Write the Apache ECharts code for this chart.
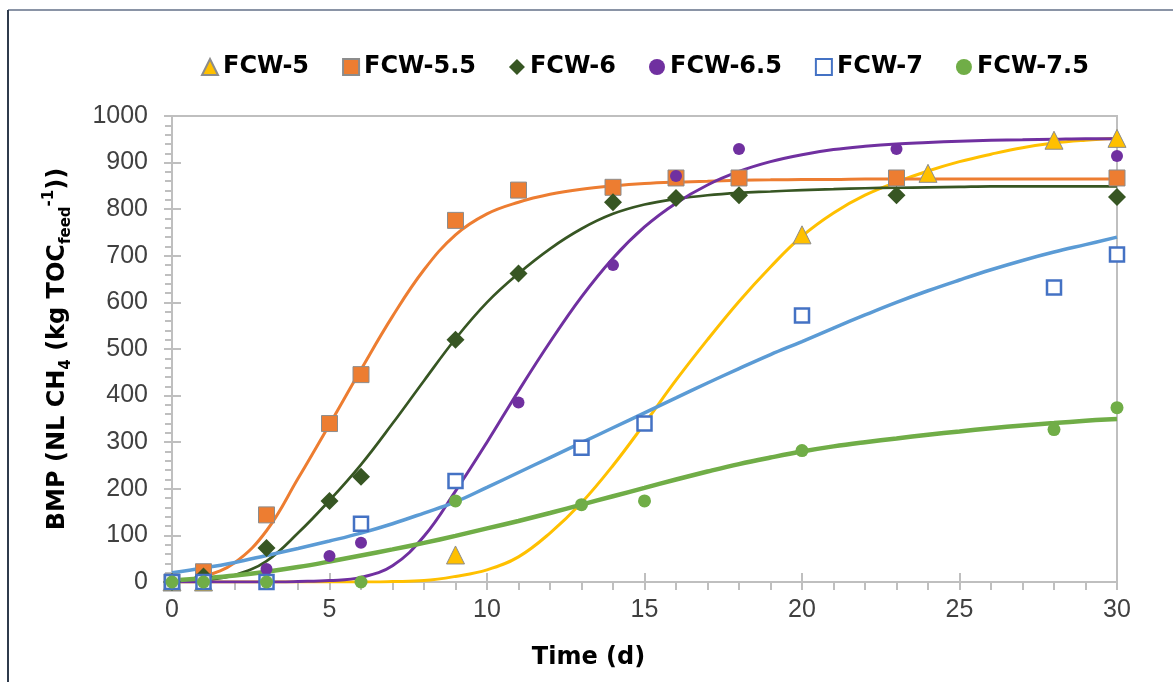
<!DOCTYPE html>
<html>
<head>
<meta charset="utf-8">
<script src="https://cdn.jsdelivr.net/npm/echarts@6/dist/echarts.min.js"></script>
<style>
  html, body { margin: 0; padding: 0; background: #ffffff; }
  #chart { width: 1173px; height: 682px; }
</style>
</head>
<body>
<div id="chart"></div>
<script>
// Measured cumulative methane yields (days, NL CH4 per kg TOC fed)
const seriesNames = ['FCW-5', 'FCW-5.5', 'FCW-6', 'FCW-6.5', 'FCW-7', 'FCW-7.5'];

const tFCW5 = [0, 1, 9, 20, 24, 28, 30];
const vFCW5 = [0, 0, 58, 745, 877, 948, 952];

const tFCW55 = [0, 1, 3, 5, 6, 9, 11, 14, 16, 18, 23, 30];
const vFCW55 = [0, 22, 144, 340, 445, 776, 841, 847, 867, 867, 867, 867];

const tFCW6 = [0, 1, 3, 5, 6, 9, 11, 14, 16, 18, 23, 30];
const vFCW6 = [0, 12, 73, 174, 226, 520, 662, 815, 824, 830, 830, 826];

const tFCW65 = [0, 1, 3, 5, 6, 11, 14, 16, 18, 23, 30];
const vFCW65 = [0, 0, 28, 56, 84, 385, 680, 871, 929, 929, 914];

const tFCW7 = [0, 1, 3, 6, 9, 13, 15, 20, 28, 30];
const vFCW7 = [0, 0, 0, 125, 217, 288, 340, 572, 632, 703];

const tFCW75 = [0, 1, 3, 6, 9, 13, 15, 20, 28, 30];
const vFCW75 = [0, 0, 0, 0, 174, 166, 174, 282, 327, 374];

// Fitted kinetic curves, sampled once per day
const curveDays = [0, 1, 2, 3, 4, 5, 6, 7, 8, 9, 10, 11, 12, 13, 14, 15,
                   16, 17, 18, 19, 20, 21, 22, 23, 24, 25, 26, 27, 28, 29, 30];
const fitFCW5  = [0, 0, 0, 0, 0, 0, 0, 1, 3, 12, 26, 54, 105, 170, 250, 340,
                  433, 520, 602, 676, 742, 792, 830, 858, 882, 902, 918, 932, 942, 948, 952];
const fitFCW55 = [2, 12, 42, 110, 222, 338, 456, 570, 670, 745, 790, 815, 832, 843, 850, 855,
                  858, 860, 862, 863, 864, 864, 865, 865, 865, 865, 865, 865, 865, 865, 865];
const fitFCW6  = [1, 4, 15, 45, 105, 175, 252, 340, 432, 522, 600, 662, 715, 758, 790, 810,
                  822, 830, 835, 838, 841, 843, 845, 846, 847, 848, 849, 849, 849, 849, 849];
const fitFCW65 = [0, 0, 0, 0, 1, 3, 10, 35, 98, 195, 300, 410, 515, 612, 695, 762,
                  813, 852, 881, 902, 917, 928, 935, 940, 943, 946, 948, 949, 950, 951, 951];
const fitFCW7  = [20, 30, 42, 57, 72, 88, 105, 125, 148, 172, 203, 235, 267, 299, 331, 363,
                  395, 427, 458, 488, 516, 545, 573, 600, 625, 648, 670, 690, 708, 724, 740];
const fitFCW75 = [3, 8, 14, 22, 32, 44, 57, 70, 84, 99, 115, 131, 148, 166, 184, 202,
                  220, 237, 253, 267, 280, 291, 300, 308, 316, 323, 330, 336, 341, 346, 350];

// Axis ranges
const xMin = 0, xMax = 30, xStep = 5;
const yMin = 0, yMax = 1000, yStep = 100;

const pairs = (xs, ys) => xs.map((x, i) => [x, ys[i]]);

const tickFont = 'Liberation Sans';
const boldFont = 'DejaVu Sans';

const measured = [
  { t: tFCW5,  v: vFCW5,  symbol: 'triangle', size: 18,
    style: { color: '#FFC000', borderColor: '#8C8C8C', borderWidth: 1 } },
  { t: tFCW55, v: vFCW55, symbol: 'rect', size: 16,
    style: { color: '#ED7D31', borderColor: '#8C8C8C', borderWidth: 1 } },
  { t: tFCW6,  v: vFCW6,  symbol: 'diamond', size: 18,
    style: { color: '#375623' } },
  { t: tFCW65, v: vFCW65, symbol: 'circle', size: 12,
    style: { color: '#7030A0' } },
  { t: tFCW7,  v: vFCW7,  symbol: 'rect', size: 14,
    style: { color: '#FFFFFF', borderColor: '#4472C4', borderWidth: 2.5 } },
  { t: tFCW75, v: vFCW75, symbol: 'circle', size: 13,
    style: { color: '#70AD47' } }
];

const fits = [
  { v: fitFCW5,  color: '#FFC000', width: 3 },
  { v: fitFCW55, color: '#ED7D31', width: 3 },
  { v: fitFCW6,  color: '#375623', width: 2.7 },
  { v: fitFCW65, color: '#7030A0', width: 3 },
  { v: fitFCW7,  color: '#5B9BD5', width: 3.5 },
  { v: fitFCW75, color: '#70AD47', width: 4.5 }
];

const series = [];
fits.forEach((f, i) => {
  series.push({
    name: seriesNames[i] + ' fit',
    type: 'line',
    data: pairs(curveDays, f.v),
    smooth: 0.4,
    showSymbol: false,
    symbol: 'none',
    silent: true,
    z: 2,
    lineStyle: { color: f.color, width: f.width },
    itemStyle: { color: f.color }
  });
});
measured.forEach((m, i) => {
  series.push({
    name: seriesNames[i],
    type: 'scatter',
    data: pairs(m.t, m.v),
    symbol: m.symbol,
    symbolSize: m.size,
    z: 3 + i,
    itemStyle: Object.assign({ opacity: 1 }, m.style)
  });
});

const axisGray = '#BFBFBF';

const option = {
  animation: false,
  backgroundColor: '#FFFFFF',
  graphic: [
    { type: 'line', shape: { x1: 8, y1: 10, x2: 1173, y2: 10 },
      style: { stroke: '#8A94A6', lineWidth: 2 }, silent: true },
    { type: 'line', shape: { x1: 8, y1: 10, x2: 8, y2: 682 },
      style: { stroke: '#2F3B4C', lineWidth: 2 }, silent: true }
  ],
  legend: {
    data: seriesNames,
    left: 196,
    top: 50,
    itemGap: 33,
    itemWidth: 16,
    itemHeight: 16,
    textStyle: { fontFamily: boldFont, fontWeight: 'bold', fontSize: 24, color: '#000000' }
  },
  grid: {
    left: 172, right: 56, top: 116, bottom: 100,
    show: true, borderColor: axisGray, borderWidth: 2, backgroundColor: 'transparent'
  },
  xAxis: [
    {
      type: 'value', min: xMin, max: xMax, interval: xStep, position: 'bottom',
      name: 'Time (d)', nameLocation: 'middle', nameGap: 64,
      nameTextStyle: { fontFamily: boldFont, fontWeight: 'bold', fontSize: 24, color: '#000000',
                       padding: [0, 112, 0, 0] },
      axisLine: { show: true, onZero: false, lineStyle: { color: axisGray, width: 2 } },
      axisTick: { show: true, inside: false, length: 8, lineStyle: { color: axisGray, width: 2 } },
      minorTick: { show: true, splitNumber: 5, length: 8, lineStyle: { color: axisGray, width: 2 } },
      axisLabel: { margin: 16, fontFamily: tickFont, fontSize: 25, color: '#404040',
                   formatter: (v) => String(v) },
      splitLine: { show: false }
    },
    {
      type: 'value', min: xMin, max: xMax, interval: xStep, position: 'bottom',
      axisLine: { show: false },
      axisTick: { show: true, inside: true, length: 9, lineStyle: { color: axisGray, width: 2 } },
      axisLabel: { show: false },
      splitLine: { show: false }
    }
  ],
  yAxis: [
    {
      type: 'value', min: yMin, max: yMax, interval: yStep, position: 'left',
      name: '{b|BMP (NL CH}{s|4}{b| (kg TOC}{s|feed}{p|-1}{b|))}',
      nameLocation: 'middle', nameRotate: 90, nameGap: 98,
      nameTextStyle: {
        color: '#000000',
        rich: {
          b: { fontFamily: boldFont, fontWeight: 'bold', fontSize: 24, lineHeight: 32, color: '#000000' },
          s: { fontFamily: boldFont, fontWeight: 'bold', fontSize: 15, lineHeight: 14,
               verticalAlign: 'bottom', color: '#000000' },
          p: { fontFamily: boldFont, fontWeight: 'bold', fontSize: 15, lineHeight: 14,
               verticalAlign: 'top', color: '#000000' }
        }
      },
      axisLine: { show: true, onZero: false, lineStyle: { color: axisGray, width: 2 } },
      axisTick: { show: true, inside: false, length: 8, lineStyle: { color: axisGray, width: 2 } },
      minorTick: { show: true, splitNumber: 5, length: 7, lineStyle: { color: axisGray, width: 2 } },
      axisLabel: { margin: 24, fontFamily: tickFont, fontSize: 25, color: '#404040',
                   formatter: (v) => String(v) },
      splitLine: { show: false }
    },
    {
      type: 'value', min: yMin, max: yMax, interval: yStep, position: 'left',
      axisLine: { show: false },
      axisTick: { show: true, inside: true, length: 9, lineStyle: { color: axisGray, width: 2 } },
      axisLabel: { show: false },
      splitLine: { show: false }
    }
  ],
  series: series
};

const chart = echarts.init(document.getElementById('chart'), null, { renderer: 'canvas' });
chart.setOption(option);
</script>
</body>
</html>
